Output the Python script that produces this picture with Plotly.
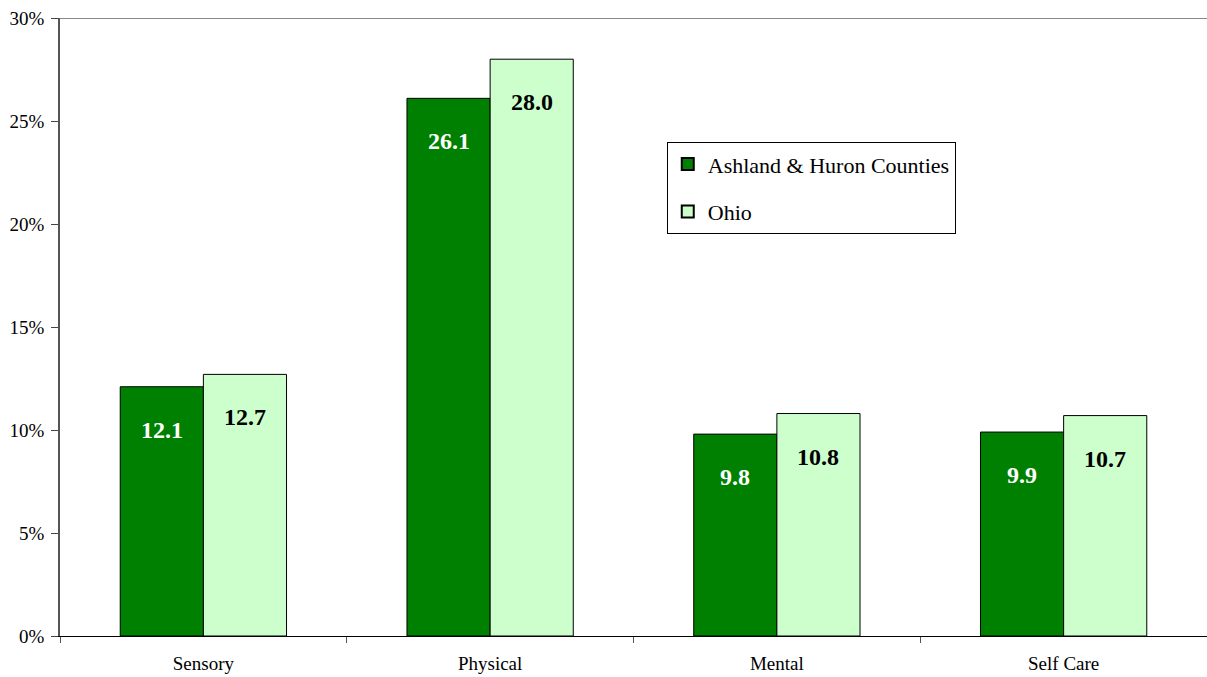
import plotly.graph_objects as go

categories = ["Sensory", "Physical", "Mental", "Self Care"]
ashland_huron = [12.1, 26.1, 9.8, 9.9]
ohio = [12.7, 28.0, 10.8, 10.7]
series_names = ["Ashland & Huron Counties", "Ohio"]
y_ticks = [0, 5, 10, 15, 20, 25, 30]
y_tick_labels = ["0%", "5%", "10%", "15%", "20%", "25%", "30%"]

FONT = "Liberation Serif"

fig = go.Figure()
fig.add_trace(go.Bar(x=categories, y=ashland_huron, name=series_names[0],
                     marker=dict(color="#008000", line=dict(color="black", width=1)),
                     legendgroup="a", hoverinfo="skip"))
fig.add_trace(go.Bar(x=categories, y=ohio, name=series_names[1],
                     marker=dict(color="#CCFFCC", line=dict(color="black", width=1)),
                     legendgroup="b", hoverinfo="skip"))

annotations = []
for cat, v in zip(categories, ashland_huron):
    annotations.append(dict(x=cat, y=v, xref="x", yref="y", text=f"<b>{v:.1f}</b>",
                            showarrow=False, xshift=-41.5, yshift=-43,
                            font=dict(family=FONT, size=24, color="white")))
for cat, v in zip(categories, ohio):
    annotations.append(dict(x=cat, y=v, xref="x", yref="y", text=f"<b>{v:.1f}</b>",
                            showarrow=False, xshift=41.5, yshift=-43,
                            font=dict(family=FONT, size=24, color="black")))

fig.update_layout(
    width=1207, height=677,
    margin=dict(l=60, r=0, t=18, b=41),
    paper_bgcolor="white", plot_bgcolor="white",
    barmode="group", bargap=0.42, bargroupgap=0,
    font=dict(family=FONT, color="black"),
    showlegend=True,
    legend=dict(x=0.529, y=0.799, xanchor="left", yanchor="top",
                bgcolor="white", bordercolor="black", borderwidth=1,
                font=dict(family=FONT, size=22, color="black"),
                tracegroupgap=16, itemsizing="constant"),
    annotations=annotations,
    xaxis=dict(showline=True, linecolor="black", linewidth=1,
               ticks="outside", ticklen=6, tickcolor="#555",
               tickson="boundaries", showgrid=False, ticklabelstandoff=10,
               tickfont=dict(family=FONT, size=19, color="black")),
    yaxis=dict(range=[0, 30], tickvals=y_ticks, ticktext=y_tick_labels,
               showline=True, linecolor="#555", linewidth=1.5,
               ticks="outside", ticklen=7, tickcolor="#444",
               showgrid=False, zeroline=False, ticklabelstandoff=3,
               tickfont=dict(family=FONT, size=19, color="black")),
    shapes=[dict(type="line", xref="paper", yref="y", x0=0, x1=1, y0=30, y1=30,
                 line=dict(color="#888", width=2))],
)

fig.write_html("out.html", config={"displayModeBar": False},
               post_script="document.body.style.margin='0';document.body.style.overflow='hidden';")
